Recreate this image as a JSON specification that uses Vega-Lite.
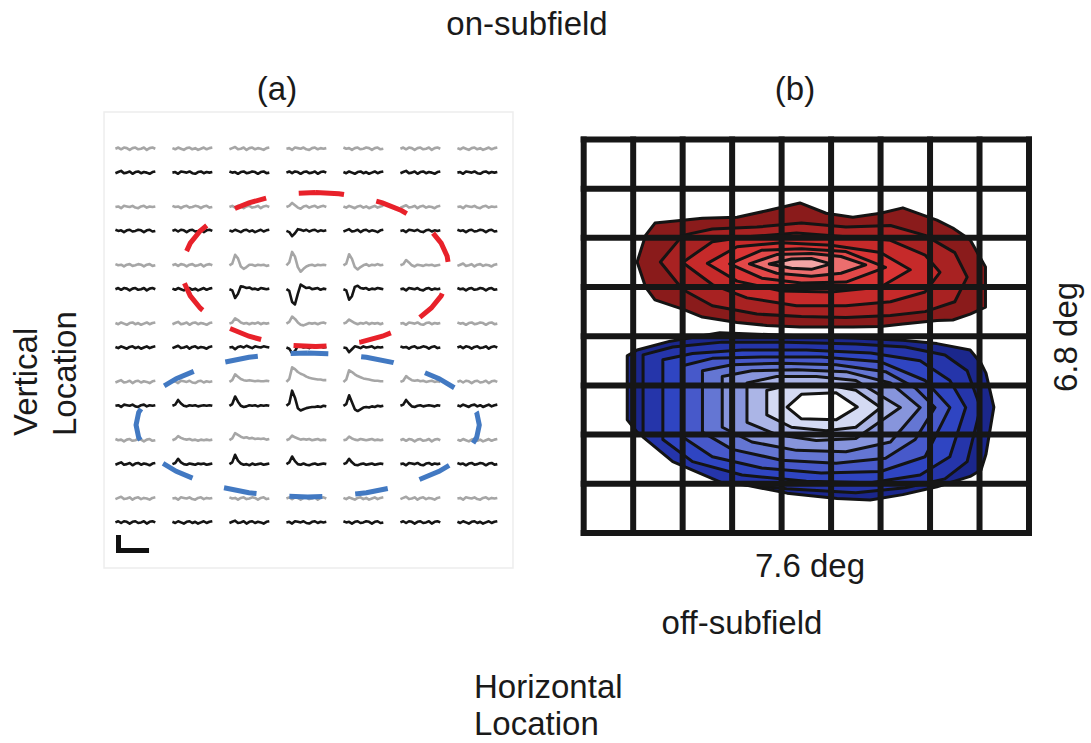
{
  "$schema": "https://vega.github.io/schema/vega-lite/v6.json",
  "width": 1091,
  "height": 743,
  "autosize": "none",
  "padding": 0,
  "background": "white",
  "config": {"view": {"stroke": null}, "text": {"font": "Liberation Sans", "fontSize": 33, "fill": "#1a1a1a"}},
  "datasets": {
    "cols": [
      {"c": 0, "x": [0, 0.05, 0.1, 0.15, 0.2, 0.25, 0.3, 0.35, 0.4, 0.45, 0.5, 0.55, 0.6, 0.65, 0.7]},
      {"c": 1, "x": [1, 1.05, 1.1, 1.15, 1.2, 1.25, 1.3, 1.35, 1.4, 1.45, 1.5, 1.55, 1.6, 1.65, 1.7]},
      {"c": 2, "x": [2, 2.05, 2.1, 2.15, 2.2, 2.25, 2.3, 2.35, 2.4, 2.45, 2.5, 2.55, 2.6, 2.65, 2.7]},
      {"c": 3, "x": [3, 3.05, 3.1, 3.15, 3.2, 3.25, 3.3, 3.35, 3.4, 3.45, 3.5, 3.55, 3.6, 3.65, 3.7]},
      {"c": 4, "x": [4, 4.05, 4.1, 4.15, 4.2, 4.25, 4.3, 4.35, 4.4, 4.45, 4.5, 4.55, 4.6, 4.65, 4.7]},
      {"c": 5, "x": [5, 5.05, 5.1, 5.15, 5.2, 5.25, 5.3, 5.35, 5.4, 5.45, 5.5, 5.55, 5.6, 5.65, 5.7]},
      {"c": 6, "x": [6, 6.05, 6.1, 6.15, 6.2, 6.25, 6.3, 6.35, 6.4, 6.45, 6.5, 6.55, 6.6, 6.65, 6.7]}
    ],
    "traces": [
      {"c":0,"k":0,"s":"ON","y":[7,7.02,6.99,7.02,7.01,6.98,7.01,7.02,6.99,7,7.02,6.98,7.01,7.02,7]},
      {"c":1,"k":0,"s":"ON","y":[7.01,6.99,7.02,7,6.98,7.01,7.02,6.99,7.01,6.98,7,7.02,6.99,7.01,7.02]},
      {"c":2,"k":0,"s":"ON","y":[6.99,7.01,7.03,6.99,7,7.02,6.98,7.01,7.02,6.99,7.01,7,6.98,7.01,7.02]},
      {"c":3,"k":0,"s":"ON","y":[7,7.01,6.98,7.02,7.01,7,7.02,6.99,6.98,7.01,7.02,6.99,7.01,7,7.01]},
      {"c":4,"k":0,"s":"ON","y":[7.02,7,7.01,6.98,7.01,7.02,6.99,7,7.02,7.01,6.98,7.01,7.02,6.99,7]},
      {"c":5,"k":0,"s":"ON","y":[7,7.02,6.99,7.02,7.01,6.98,7.01,7.02,6.99,7,7.02,6.98,7.01,7.02,7]},
      {"c":6,"k":0,"s":"ON","y":[7.01,6.99,7.02,7,6.98,7.01,7.02,6.99,7.01,6.98,7,7.02,6.99,7.01,7.02]},
      {"c":0,"k":0,"s":"OFF","y":[6.58,6.6,6.62,6.58,6.59,6.61,6.57,6.6,6.61,6.58,6.6,6.59,6.57,6.6,6.61]},
      {"c":1,"k":0,"s":"OFF","y":[6.59,6.6,6.57,6.61,6.6,6.59,6.61,6.58,6.57,6.6,6.61,6.58,6.6,6.59,6.6]},
      {"c":2,"k":0,"s":"OFF","y":[6.61,6.59,6.6,6.57,6.6,6.61,6.58,6.59,6.61,6.6,6.57,6.6,6.61,6.58,6.59]},
      {"c":3,"k":0,"s":"OFF","y":[6.59,6.61,6.58,6.61,6.6,6.57,6.6,6.61,6.58,6.59,6.61,6.57,6.6,6.61,6.59]},
      {"c":4,"k":0,"s":"OFF","y":[6.6,6.58,6.61,6.59,6.57,6.6,6.61,6.58,6.6,6.57,6.59,6.61,6.58,6.6,6.61]},
      {"c":5,"k":0,"s":"OFF","y":[6.58,6.6,6.62,6.58,6.59,6.61,6.57,6.6,6.61,6.58,6.6,6.59,6.57,6.6,6.61]},
      {"c":6,"k":0,"s":"OFF","y":[6.59,6.6,6.57,6.61,6.6,6.59,6.61,6.58,6.57,6.6,6.61,6.58,6.6,6.59,6.6]},

      {"c":0,"k":1,"s":"ON","y":[6,6.01,5.98,6.02,6.01,6,6.02,5.99,5.98,6.01,6.02,5.99,6.01,6,6.01]},
      {"c":1,"k":1,"s":"ON","y":[6.02,6,6.01,5.98,6.01,6.02,5.99,6,6.02,6.01,5.98,6.01,6.02,5.99,6]},
      {"c":2,"k":1,"s":"ON","y":[6,6.02,5.99,6.02,6.01,5.98,6.01,6.02,5.99,6,6.02,5.98,6.01,6.02,6]},
      {"c":3,"k":1,"s":"ON","y":[6,6.02,6.07,6.03,5.99,5.97,6.01,6.02,5.99,6.01,6.02,5.99,6.01,6.02,6]},
      {"c":4,"k":1,"s":"ON","y":[6.01,5.99,6.02,6,5.98,6.01,6.02,5.99,6.01,5.98,6,6.02,5.99,6.01,6.02]},
      {"c":5,"k":1,"s":"ON","y":[5.99,6.01,6.03,5.99,6,6.02,5.98,6.01,6.02,5.99,6.01,6,5.98,6.01,6.02]},
      {"c":6,"k":1,"s":"ON","y":[6,6.01,5.98,6.02,6.01,6,6.02,5.99,5.98,6.01,6.02,5.99,6.01,6,6.01]},
      {"c":0,"k":1,"s":"OFF","y":[5.61,5.59,5.6,5.57,5.6,5.61,5.58,5.59,5.61,5.6,5.57,5.6,5.61,5.58,5.59]},
      {"c":1,"k":1,"s":"OFF","y":[5.59,5.61,5.58,5.61,5.6,5.57,5.6,5.61,5.58,5.59,5.61,5.57,5.6,5.61,5.59]},
      {"c":2,"k":1,"s":"OFF","y":[5.6,5.58,5.61,5.59,5.57,5.6,5.61,5.58,5.6,5.57,5.59,5.61,5.58,5.6,5.61]},
      {"c":3,"k":1,"s":"OFF","y":[5.59,5.57,5.5,5.55,5.62,5.61,5.59,5.61,5.58,5.6,5.61,5.58,5.6,5.59,5.6]},
      {"c":4,"k":1,"s":"OFF","y":[5.58,5.6,5.62,5.58,5.59,5.61,5.57,5.6,5.61,5.58,5.6,5.59,5.57,5.6,5.61]},
      {"c":5,"k":1,"s":"OFF","y":[5.59,5.6,5.57,5.61,5.6,5.59,5.61,5.58,5.57,5.6,5.61,5.58,5.6,5.59,5.6]},
      {"c":6,"k":1,"s":"OFF","y":[5.61,5.59,5.6,5.57,5.6,5.61,5.58,5.59,5.61,5.6,5.57,5.6,5.61,5.58,5.59]},

      {"c":0,"k":2,"s":"ON","y":[5.02,5,5.01,4.98,5.01,5.02,4.99,5,5.02,5.01,4.98,5.01,5.02,4.99,5]},
      {"c":1,"k":2,"s":"ON","y":[5,5.02,4.99,5.02,5.01,4.98,5.01,5.02,4.99,5,5.02,4.98,5.01,5.02,5]},
      {"c":2,"k":2,"s":"ON","y":[5,5.03,5.18,5.12,4.98,4.94,4.97,5.01,5.01,4.99,5.01,5,5.01,4.99,5]},
      {"c":3,"k":2,"s":"ON","y":[5,5.05,5.23,5.15,4.97,4.89,4.94,4.98,5,5.01,4.99,5.01,5,5.01,5]},
      {"c":4,"k":2,"s":"ON","y":[5,5.03,5.19,5.11,4.97,4.93,4.97,5,5.02,4.99,5.01,5,5.02,5,5.01]},
      {"c":5,"k":2,"s":"ON","y":[5,5.02,5.09,5.05,5,4.98,5.01,5,4.99,5.01,5,5.01,4.99,5,5.01]},
      {"c":6,"k":2,"s":"ON","y":[4.99,5.01,5.03,4.99,5,5.02,4.98,5.01,5.02,4.99,5.01,5,4.98,5.01,5.02]},
      {"c":0,"k":2,"s":"OFF","y":[4.59,4.61,4.58,4.61,4.6,4.57,4.6,4.61,4.58,4.59,4.61,4.57,4.6,4.61,4.59]},
      {"c":1,"k":2,"s":"OFF","y":[4.6,4.58,4.61,4.59,4.57,4.6,4.61,4.58,4.6,4.57,4.59,4.61,4.58,4.6,4.61]},
      {"c":2,"k":2,"s":"OFF","y":[4.59,4.57,4.44,4.51,4.64,4.63,4.61,4.62,4.59,4.6,4.58,4.61,4.6,4.59,4.6]},
      {"c":3,"k":2,"s":"OFF","y":[4.59,4.56,4.37,4.33,4.51,4.67,4.64,4.61,4.62,4.59,4.6,4.61,4.58,4.6,4.59]},
      {"c":4,"k":2,"s":"OFF","y":[4.59,4.57,4.41,4.47,4.63,4.65,4.61,4.6,4.61,4.58,4.6,4.59,4.61,4.6,4.59]},
      {"c":5,"k":2,"s":"OFF","y":[4.59,4.6,4.57,4.61,4.6,4.59,4.61,4.58,4.57,4.6,4.61,4.58,4.6,4.59,4.6]},
      {"c":6,"k":2,"s":"OFF","y":[4.61,4.59,4.6,4.57,4.6,4.61,4.58,4.59,4.61,4.6,4.57,4.6,4.61,4.58,4.59]},

      {"c":0,"k":3,"s":"ON","y":[4.01,3.99,4.02,4,3.98,4.01,4.02,3.99,4.01,3.98,4,4.02,3.99,4.01,4.02]},
      {"c":1,"k":3,"s":"ON","y":[3.99,4.01,4.03,3.99,4,4.02,3.98,4.01,4.02,3.99,4.01,4,3.98,4.01,4.02]},
      {"c":2,"k":3,"s":"ON","y":[4,4.02,4.09,4.06,4.02,4,4.01,3.99,4.01,4,4.02,3.99,4.01,4,4.01]},
      {"c":3,"k":3,"s":"ON","y":[4,4.03,4.12,4.08,4.02,3.98,3.97,3.99,4.01,4,4.01,3.99,4.01,4.02,4]},
      {"c":4,"k":3,"s":"ON","y":[4,4.02,4.07,4.04,4.01,3.99,4.01,4,4.02,3.99,4.01,4,4.01,3.99,4.01]},
      {"c":5,"k":3,"s":"ON","y":[4,4.01,3.98,4.02,4.01,4,4.02,3.99,3.98,4.01,4.02,3.99,4.01,4,4.01]},
      {"c":6,"k":3,"s":"ON","y":[4.02,4,4.01,3.98,4.01,4.02,3.99,4,4.02,4.01,3.98,4.01,4.02,3.99,4]},
      {"c":0,"k":3,"s":"OFF","y":[3.6,3.58,3.61,3.59,3.57,3.6,3.61,3.58,3.6,3.57,3.59,3.61,3.58,3.6,3.61]},
      {"c":1,"k":3,"s":"OFF","y":[3.58,3.6,3.62,3.58,3.59,3.61,3.57,3.6,3.61,3.58,3.6,3.59,3.57,3.6,3.61]},
      {"c":2,"k":3,"s":"OFF","y":[3.59,3.6,3.56,3.6,3.61,3.59,3.62,3.6,3.58,3.61,3.6,3.59,3.61,3.6,3.59]},
      {"c":3,"k":3,"s":"OFF","y":[3.59,3.57,3.49,3.53,3.62,3.61,3.59,3.6,3.58,3.61,3.59,3.6,3.61,3.59,3.6]},
      {"c":4,"k":3,"s":"OFF","y":[3.59,3.58,3.51,3.56,3.61,3.6,3.58,3.61,3.59,3.6,3.61,3.58,3.6,3.59,3.6]},
      {"c":5,"k":3,"s":"OFF","y":[3.61,3.59,3.6,3.57,3.6,3.61,3.58,3.59,3.61,3.6,3.57,3.6,3.61,3.58,3.59]},
      {"c":6,"k":3,"s":"OFF","y":[3.59,3.61,3.58,3.61,3.6,3.57,3.6,3.61,3.58,3.59,3.61,3.57,3.6,3.61,3.59]},

      {"c":0,"k":4,"s":"ON","y":[2.99,3.01,3.03,2.99,3,3.02,2.98,3.01,3.02,2.99,3.01,3,2.98,3.01,3.02]},
      {"c":1,"k":4,"s":"ON","y":[3,3.01,2.98,3.02,3.01,3,3.02,2.99,2.98,3.01,3.02,2.99,3.01,3,3.01]},
      {"c":2,"k":4,"s":"ON","y":[3,3.03,3.13,3.09,3.05,3.03,3.02,3.03,3.02,3.01,3.02,3.01,3.01,3.02,3.01]},
      {"c":3,"k":4,"s":"ON","y":[3,3.05,3.25,3.22,3.17,3.14,3.12,3.09,3.07,3.06,3.05,3.04,3.04,3.03,3.03]},
      {"c":4,"k":4,"s":"ON","y":[3,3.04,3.2,3.17,3.13,3.1,3.08,3.06,3.05,3.04,3.03,3.02,3.02,3.01,3.01]},
      {"c":5,"k":4,"s":"ON","y":[3,3.02,3.1,3.06,3.03,3.02,3.03,3.01,3.02,3,3.01,3.02,3,3.01,3]},
      {"c":6,"k":4,"s":"ON","y":[3,3.02,2.99,3.02,3.01,2.98,3.01,3.02,2.99,3,3.02,2.98,3.01,3.02,3]},
      {"c":0,"k":4,"s":"OFF","y":[2.59,2.6,2.57,2.61,2.6,2.59,2.61,2.58,2.57,2.6,2.61,2.58,2.6,2.59,2.6]},
      {"c":1,"k":4,"s":"OFF","y":[2.59,2.61,2.69,2.63,2.59,2.58,2.6,2.59,2.6,2.58,2.59,2.6,2.59,2.6,2.59]},
      {"c":2,"k":4,"s":"OFF","y":[2.59,2.62,2.75,2.66,2.59,2.57,2.58,2.6,2.59,2.6,2.58,2.6,2.59,2.6,2.59]},
      {"c":3,"k":4,"s":"OFF","y":[2.59,2.63,2.85,2.73,2.55,2.51,2.53,2.55,2.56,2.57,2.57,2.58,2.57,2.59,2.58]},
      {"c":4,"k":4,"s":"OFF","y":[2.59,2.62,2.77,2.65,2.53,2.5,2.53,2.56,2.57,2.56,2.58,2.57,2.59,2.58,2.59]},
      {"c":5,"k":4,"s":"OFF","y":[2.59,2.61,2.69,2.63,2.58,2.57,2.59,2.6,2.58,2.59,2.6,2.59,2.58,2.6,2.59]},
      {"c":6,"k":4,"s":"OFF","y":[2.6,2.58,2.61,2.59,2.57,2.6,2.61,2.58,2.6,2.57,2.59,2.61,2.58,2.6,2.61]},

      {"c":0,"k":5,"s":"ON","y":[2.02,2,2.01,1.98,2.01,2.02,1.99,2,2.02,2.01,1.98,2.01,2.02,1.99,2]},
      {"c":1,"k":5,"s":"ON","y":[2,2.02,2.07,2.04,2.02,2.01,2.02,2,2.01,1.99,2.01,2,2.01,2,2.01]},
      {"c":2,"k":5,"s":"ON","y":[2,2.03,2.12,2.09,2.06,2.04,2.05,2.03,2.04,2.02,2.03,2.02,2.03,2.01,2.02]},
      {"c":3,"k":5,"s":"ON","y":[2,2.02,2.08,2.05,2.03,2.01,2.02,2.01,2.02,2,2.01,2.02,2,2.01,2]},
      {"c":4,"k":5,"s":"ON","y":[2,2.01,2.06,2.03,2.01,2,2.02,2.01,2,2.01,2.02,2,2.01,2,2.01]},
      {"c":5,"k":5,"s":"ON","y":[2,2.02,1.99,2.02,2.01,1.98,2.01,2.02,1.99,2,2.02,1.98,2.01,2.02,2]},
      {"c":6,"k":5,"s":"ON","y":[2.01,1.99,2.02,2,1.98,2.01,2.02,1.99,2.01,1.98,2,2.02,1.99,2.01,2.02]},
      {"c":0,"k":5,"s":"OFF","y":[1.58,1.6,1.62,1.58,1.59,1.61,1.57,1.6,1.61,1.58,1.6,1.59,1.57,1.6,1.61]},
      {"c":1,"k":5,"s":"OFF","y":[1.59,1.61,1.68,1.62,1.59,1.58,1.6,1.59,1.58,1.6,1.59,1.6,1.58,1.59,1.6]},
      {"c":2,"k":5,"s":"OFF","y":[1.59,1.62,1.75,1.65,1.6,1.58,1.59,1.57,1.6,1.58,1.59,1.6,1.58,1.59,1.6]},
      {"c":3,"k":5,"s":"OFF","y":[1.59,1.62,1.72,1.64,1.59,1.58,1.6,1.58,1.57,1.59,1.6,1.58,1.59,1.6,1.59]},
      {"c":4,"k":5,"s":"OFF","y":[1.59,1.61,1.68,1.62,1.58,1.57,1.59,1.6,1.58,1.59,1.6,1.58,1.59,1.6,1.59]},
      {"c":5,"k":5,"s":"OFF","y":[1.59,1.6,1.57,1.61,1.6,1.59,1.61,1.58,1.57,1.6,1.61,1.58,1.6,1.59,1.6]},
      {"c":6,"k":5,"s":"OFF","y":[1.61,1.59,1.6,1.57,1.6,1.61,1.58,1.59,1.61,1.6,1.57,1.6,1.61,1.58,1.59]},

      {"c":0,"k":6,"s":"ON","y":[0.99,1.01,1.03,0.99,1,1.02,0.98,1.01,1.02,0.99,1.01,1,0.98,1.01,1.02]},
      {"c":1,"k":6,"s":"ON","y":[1,1.01,0.98,1.02,1.01,1,1.02,0.99,0.98,1.01,1.02,0.99,1.01,1,1.01]},
      {"c":2,"k":6,"s":"ON","y":[1.02,1,1.01,0.98,1.01,1.02,0.99,1,1.02,1.01,0.98,1.01,1.02,0.99,1]},
      {"c":3,"k":6,"s":"ON","y":[1,1.02,0.99,1.02,1.01,0.98,1.01,1.02,0.99,1,1.02,0.98,1.01,1.02,1]},
      {"c":4,"k":6,"s":"ON","y":[1.01,0.99,1.02,1,0.98,1.01,1.02,0.99,1.01,0.98,1,1.02,0.99,1.01,1.02]},
      {"c":5,"k":6,"s":"ON","y":[0.99,1.01,1.03,0.99,1,1.02,0.98,1.01,1.02,0.99,1.01,1,0.98,1.01,1.02]},
      {"c":6,"k":6,"s":"ON","y":[1,1.01,0.98,1.02,1.01,1,1.02,0.99,0.98,1.01,1.02,0.99,1.01,1,1.01]},
      {"c":0,"k":6,"s":"OFF","y":[0.59,0.61,0.58,0.61,0.6,0.57,0.6,0.61,0.58,0.59,0.61,0.57,0.6,0.61,0.59]},
      {"c":1,"k":6,"s":"OFF","y":[0.6,0.58,0.61,0.59,0.57,0.6,0.61,0.58,0.6,0.57,0.59,0.61,0.58,0.6,0.61]},
      {"c":2,"k":6,"s":"OFF","y":[0.58,0.6,0.62,0.58,0.59,0.61,0.57,0.6,0.61,0.58,0.6,0.59,0.57,0.6,0.61]},
      {"c":3,"k":6,"s":"OFF","y":[0.59,0.6,0.57,0.61,0.6,0.59,0.61,0.58,0.57,0.6,0.61,0.58,0.6,0.59,0.6]},
      {"c":4,"k":6,"s":"OFF","y":[0.61,0.59,0.6,0.57,0.6,0.61,0.58,0.59,0.61,0.6,0.57,0.6,0.61,0.58,0.59]},
      {"c":5,"k":6,"s":"OFF","y":[0.59,0.61,0.58,0.61,0.6,0.57,0.6,0.61,0.58,0.59,0.61,0.57,0.6,0.61,0.59]},
      {"c":6,"k":6,"s":"OFF","y":[0.6,0.58,0.61,0.59,0.57,0.6,0.61,0.58,0.6,0.57,0.59,0.61,0.58,0.6,0.61]}
    ],
    "rings": [
      {"e":"on","i":0,"x":3.514,"y":6.249},{"e":"on","i":1,"x":3.107,"y":6.229},{"e":"on","i":2,"x":2.713,"y":6.169},{"e":"on","i":3,"x":2.343,"y":6.072},
      {"e":"on","i":4,"x":2.009,"y":5.94},{"e":"on","i":5,"x":1.72,"y":5.777},{"e":"on","i":6,"x":1.486,"y":5.589},{"e":"on","i":7,"x":1.313,"y":5.38},
      {"e":"on","i":8,"x":1.208,"y":5.157},{"e":"on","i":9,"x":1.172,"y":4.928},{"e":"on","i":10,"x":1.208,"y":4.699},{"e":"on","i":11,"x":1.313,"y":4.476},
      {"e":"on","i":12,"x":1.486,"y":4.267},{"e":"on","i":13,"x":1.72,"y":4.079},{"e":"on","i":14,"x":2.009,"y":3.916},{"e":"on","i":15,"x":2.343,"y":3.784},
      {"e":"on","i":16,"x":2.713,"y":3.687},{"e":"on","i":17,"x":3.107,"y":3.627},{"e":"on","i":18,"x":3.514,"y":3.607},{"e":"on","i":19,"x":3.921,"y":3.627},
      {"e":"on","i":20,"x":4.315,"y":3.687},{"e":"on","i":21,"x":4.685,"y":3.784},{"e":"on","i":22,"x":5.019,"y":3.916},{"e":"on","i":23,"x":5.308,"y":4.079},
      {"e":"on","i":24,"x":5.542,"y":4.267},{"e":"on","i":25,"x":5.715,"y":4.476},{"e":"on","i":26,"x":5.82,"y":4.699},{"e":"on","i":27,"x":5.856,"y":4.928},
      {"e":"on","i":28,"x":5.82,"y":5.157},{"e":"on","i":29,"x":5.715,"y":5.38},{"e":"on","i":30,"x":5.542,"y":5.589},{"e":"on","i":31,"x":5.308,"y":5.777},
      {"e":"on","i":32,"x":5.019,"y":5.94},{"e":"on","i":33,"x":4.685,"y":6.072},{"e":"on","i":34,"x":4.315,"y":6.169},{"e":"on","i":35,"x":3.921,"y":6.229},
      {"e":"on","i":36,"x":3.514,"y":6.249},
      {"e":"off","i":0,"x":3.373,"y":3.496},{"e":"off","i":1,"x":2.85,"y":3.477},{"e":"off","i":2,"x":2.343,"y":3.422},{"e":"off","i":3,"x":1.867,"y":3.331},
      {"e":"off","i":4,"x":1.438,"y":3.207},{"e":"off","i":5,"x":1.067,"y":3.055},{"e":"off","i":6,"x":0.765,"y":2.879},{"e":"off","i":7,"x":0.544,"y":2.683},
      {"e":"off","i":8,"x":0.408,"y":2.475},{"e":"off","i":9,"x":0.362,"y":2.261},{"e":"off","i":10,"x":0.408,"y":2.047},{"e":"off","i":11,"x":0.544,"y":1.839},
      {"e":"off","i":12,"x":0.765,"y":1.643},{"e":"off","i":13,"x":1.067,"y":1.467},{"e":"off","i":14,"x":1.438,"y":1.315},{"e":"off","i":15,"x":1.867,"y":1.191},
      {"e":"off","i":16,"x":2.343,"y":1.1},{"e":"off","i":17,"x":2.85,"y":1.045},{"e":"off","i":18,"x":3.373,"y":1.026},{"e":"off","i":19,"x":3.896,"y":1.045},
      {"e":"off","i":20,"x":4.403,"y":1.1},{"e":"off","i":21,"x":4.879,"y":1.191},{"e":"off","i":22,"x":5.308,"y":1.315},{"e":"off","i":23,"x":5.679,"y":1.467},
      {"e":"off","i":24,"x":5.981,"y":1.643},{"e":"off","i":25,"x":6.202,"y":1.839},{"e":"off","i":26,"x":6.338,"y":2.047},{"e":"off","i":27,"x":6.384,"y":2.261},
      {"e":"off","i":28,"x":6.338,"y":2.475},{"e":"off","i":29,"x":6.202,"y":2.683},{"e":"off","i":30,"x":5.981,"y":2.879},{"e":"off","i":31,"x":5.679,"y":3.055},
      {"e":"off","i":32,"x":5.308,"y":3.207},{"e":"off","i":33,"x":4.879,"y":3.331},{"e":"off","i":34,"x":4.403,"y":3.422},{"e":"off","i":35,"x":3.896,"y":3.477},
      {"e":"off","i":36,"x":3.373,"y":3.496}
    ],
    "contours": [
      {"lvl":"r0","x":1.08,"lo":5.51,"hi":5.51},{"lvl":"r0","x":1.25,"lo":5.0,"hi":6.05},{"lvl":"r0","x":1.44,"lo":4.74,"hi":6.3},{"lvl":"r0","x":2.0,"lo":4.55,"hi":6.36},
      {"lvl":"r0","x":2.4,"lo":4.39,"hi":6.4},{"lvl":"r0","x":3.1,"lo":4.28,"hi":6.42},{"lvl":"r0","x":3.7,"lo":4.22,"hi":6.55},{"lvl":"r0","x":4.37,"lo":4.19,"hi":6.71},
      {"lvl":"r0","x":4.9,"lo":4.19,"hi":6.5},{"lvl":"r0","x":5.44,"lo":4.19,"hi":6.42},{"lvl":"r0","x":6.0,"lo":4.2,"hi":6.5},{"lvl":"r0","x":6.45,"lo":4.25,"hi":6.61},
      {"lvl":"r0","x":7.14,"lo":4.32,"hi":6.36},{"lvl":"r0","x":7.46,"lo":4.33,"hi":6.2},{"lvl":"r0","x":7.81,"lo":4.45,"hi":5.96},{"lvl":"r0","x":8.12,"lo":4.59,"hi":5.41},
      {"lvl":"r1","x":1.55,"lo":5.51,"hi":5.51},{"lvl":"r1","x":2.0,"lo":4.95,"hi":6.05},{"lvl":"r1","x":2.6,"lo":4.62,"hi":6.18},{"lvl":"r1","x":3.5,"lo":4.45,"hi":6.22},
      {"lvl":"r1","x":4.4,"lo":4.4,"hi":6.3},{"lvl":"r1","x":5.3,"lo":4.38,"hi":6.22},{"lvl":"r1","x":6.2,"lo":4.42,"hi":6.25},{"lvl":"r1","x":6.9,"lo":4.5,"hi":6.05},
      {"lvl":"r1","x":7.5,"lo":4.7,"hi":5.7},{"lvl":"r1","x":7.75,"lo":5.2,"hi":5.2},
      {"lvl":"r2","x":2.0,"lo":5.5,"hi":5.5},{"lvl":"r2","x":2.6,"lo":5.05,"hi":5.92},{"lvl":"r2","x":3.3,"lo":4.78,"hi":6.02},{"lvl":"r2","x":4.3,"lo":4.62,"hi":6.1},
      {"lvl":"r2","x":5.3,"lo":4.62,"hi":6.02},{"lvl":"r2","x":6.2,"lo":4.7,"hi":5.95},{"lvl":"r2","x":6.9,"lo":4.9,"hi":5.65},{"lvl":"r2","x":7.2,"lo":5.3,"hi":5.3},
      {"lvl":"r3","x":2.5,"lo":5.48,"hi":5.48},{"lvl":"r3","x":3.1,"lo":5.12,"hi":5.82},{"lvl":"r3","x":4.0,"lo":4.92,"hi":5.9},{"lvl":"r3","x":5.0,"lo":4.9,"hi":5.85},
      {"lvl":"r3","x":6.0,"lo":5.0,"hi":5.7},{"lvl":"r3","x":6.6,"lo":5.35,"hi":5.35},
      {"lvl":"r4","x":2.95,"lo":5.47,"hi":5.47},{"lvl":"r4","x":3.6,"lo":5.18,"hi":5.75},{"lvl":"r4","x":4.4,"lo":5.08,"hi":5.78},{"lvl":"r4","x":5.3,"lo":5.1,"hi":5.72},
      {"lvl":"r4","x":6.1,"lo":5.4,"hi":5.4},
      {"lvl":"r5","x":3.35,"lo":5.47,"hi":5.47},{"lvl":"r5","x":3.9,"lo":5.28,"hi":5.66},{"lvl":"r5","x":4.6,"lo":5.22,"hi":5.68},{"lvl":"r5","x":5.2,"lo":5.28,"hi":5.62},
      {"lvl":"r5","x":5.7,"lo":5.45,"hi":5.45},
      {"lvl":"r6","x":3.75,"lo":5.47,"hi":5.47},{"lvl":"r6","x":4.2,"lo":5.38,"hi":5.57},{"lvl":"r6","x":4.6,"lo":5.36,"hi":5.58},{"lvl":"r6","x":5.0,"lo":5.47,"hi":5.47},
      {"lvl":"b0","x":0.88,"lo":2.3,"hi":3.6},{"lvl":"b0","x":1.08,"lo":2.05,"hi":3.72},{"lvl":"b0","x":1.75,"lo":1.55,"hi":3.9},{"lvl":"b0","x":2.75,"lo":1.08,"hi":4.07},
      {"lvl":"b0","x":4.11,"lo":0.81,"hi":4.02},{"lvl":"b0","x":5.12,"lo":0.7,"hi":3.98},{"lvl":"b0","x":5.79,"lo":0.67,"hi":3.95},{"lvl":"b0","x":6.45,"lo":0.78,"hi":3.92},
      {"lvl":"b0","x":7.14,"lo":0.94,"hi":3.85},{"lvl":"b0","x":7.81,"lo":1.15,"hi":3.72},{"lvl":"b0","x":8.03,"lo":1.28,"hi":3.45},{"lvl":"b0","x":8.13,"lo":1.6,"hi":3.25},
      {"lvl":"b0","x":8.29,"lo":2.56,"hi":2.56},
      {"lvl":"b1","x":1.2,"lo":1.95,"hi":3.62},{"lvl":"b1","x":1.8,"lo":1.45,"hi":3.78},{"lvl":"b1","x":2.8,"lo":1.02,"hi":3.88},{"lvl":"b1","x":4.1,"lo":0.9,"hi":3.88},
      {"lvl":"b1","x":5.5,"lo":0.82,"hi":3.84},{"lvl":"b1","x":6.5,"lo":0.92,"hi":3.78},{"lvl":"b1","x":7.3,"lo":1.1,"hi":3.62},{"lvl":"b1","x":7.75,"lo":1.45,"hi":3.3},
      {"lvl":"b1","x":8.02,"lo":2.55,"hi":2.55},
      {"lvl":"b2","x":1.6,"lo":1.9,"hi":3.52},{"lvl":"b2","x":2.2,"lo":1.45,"hi":3.65},{"lvl":"b2","x":3.2,"lo":1.18,"hi":3.72},{"lvl":"b2","x":4.5,"lo":1.05,"hi":3.72},
      {"lvl":"b2","x":5.8,"lo":1.02,"hi":3.66},{"lvl":"b2","x":6.8,"lo":1.18,"hi":3.5},{"lvl":"b2","x":7.4,"lo":1.55,"hi":3.1},{"lvl":"b2","x":7.72,"lo":2.55,"hi":2.55},
      {"lvl":"b3","x":2.0,"lo":1.95,"hi":3.4},{"lvl":"b3","x":2.6,"lo":1.55,"hi":3.55},{"lvl":"b3","x":3.6,"lo":1.32,"hi":3.58},{"lvl":"b3","x":4.8,"lo":1.22,"hi":3.58},
      {"lvl":"b3","x":6.0,"lo":1.25,"hi":3.48},{"lvl":"b3","x":6.9,"lo":1.55,"hi":3.1},{"lvl":"b3","x":7.4,"lo":2.55,"hi":2.55},
      {"lvl":"b4","x":2.4,"lo":2.05,"hi":3.3},{"lvl":"b4","x":3.0,"lo":1.7,"hi":3.42},{"lvl":"b4","x":4.0,"lo":1.48,"hi":3.45},{"lvl":"b4","x":5.1,"lo":1.42,"hi":3.42},
      {"lvl":"b4","x":6.1,"lo":1.52,"hi":3.28},{"lvl":"b4","x":6.7,"lo":1.9,"hi":2.95},{"lvl":"b4","x":7.1,"lo":2.55,"hi":2.55},
      {"lvl":"b5","x":2.8,"lo":2.15,"hi":3.18},{"lvl":"b5","x":3.4,"lo":1.85,"hi":3.3},{"lvl":"b5","x":4.3,"lo":1.68,"hi":3.32},{"lvl":"b5","x":5.3,"lo":1.65,"hi":3.28},
      {"lvl":"b5","x":6.2,"lo":1.85,"hi":3.05},{"lvl":"b5","x":6.8,"lo":2.55,"hi":2.55},
      {"lvl":"b6","x":3.3,"lo":2.25,"hi":3.05},{"lvl":"b6","x":3.9,"lo":2.0,"hi":3.18},{"lvl":"b6","x":4.7,"lo":1.88,"hi":3.18},{"lvl":"b6","x":5.5,"lo":1.92,"hi":3.1},
      {"lvl":"b6","x":6.4,"lo":2.55,"hi":2.55},
      {"lvl":"b7","x":3.7,"lo":2.4,"hi":2.9},{"lvl":"b7","x":4.2,"lo":2.15,"hi":3.02},{"lvl":"b7","x":4.9,"lo":2.08,"hi":3.02},{"lvl":"b7","x":5.5,"lo":2.15,"hi":2.9},
      {"lvl":"b7","x":6.0,"lo":2.55,"hi":2.55},
      {"lvl":"b8","x":4.11,"lo":2.56,"hi":2.56},{"lvl":"b8","x":4.4,"lo":2.32,"hi":2.82},{"lvl":"b8","x":5.1,"lo":2.3,"hi":2.85},{"lvl":"b8","x":5.53,"lo":2.56,"hi":2.56}
    ],
    "grid": [
      {"x1":0,"y1":0,"x2":0,"y2":8},{"x1":1,"y1":0,"x2":1,"y2":8},{"x1":2,"y1":0,"x2":2,"y2":8},{"x1":3,"y1":0,"x2":3,"y2":8},{"x1":4,"y1":0,"x2":4,"y2":8},
      {"x1":5,"y1":0,"x2":5,"y2":8},{"x1":6,"y1":0,"x2":6,"y2":8},{"x1":7,"y1":0,"x2":7,"y2":8},{"x1":8,"y1":0,"x2":8,"y2":8},{"x1":9,"y1":0,"x2":9,"y2":8},
      {"x1":0,"y1":0,"x2":9,"y2":0},{"x1":0,"y1":1,"x2":9,"y2":1},{"x1":0,"y1":2,"x2":9,"y2":2},{"x1":0,"y1":3,"x2":9,"y2":3},{"x1":0,"y1":4,"x2":9,"y2":4},
      {"x1":0,"y1":5,"x2":9,"y2":5},{"x1":0,"y1":6,"x2":9,"y2":6},{"x1":0,"y1":7,"x2":9,"y2":7},{"x1":0,"y1":8,"x2":9,"y2":8}
    ]
  },
  "resolve": {"scale": {"x": "independent", "y": "independent"}},
  "layer": [
    {
      "layer": [
        {
          "data": {"values": [{"x1": -0.2, "x2": 6.975, "y1": 7.63, "y2": -0.192}]},
          "mark": {"type": "rect", "fill": null, "stroke": "#ededed", "strokeWidth": 1.5},
          "encoding": {
            "x": {"field": "x1", "type": "quantitative", "axis": null, "scale": {"domain": [-2.025, 17.116], "nice": false, "zero": false}},
            "x2": {"field": "x2"},
            "y": {"field": "y1", "type": "quantitative", "axis": null, "scale": {"domain": [-3.194, 9.551], "nice": false, "zero": false}},
            "y2": {"field": "y2"}
          }
        },
        {
          "data": {"name": "traces"},
          "transform": [
            {"lookup": "c", "from": {"data": {"name": "cols"}, "key": "c", "fields": ["x"]}},
            {"flatten": ["x", "y"]}
          ],
          "mark": {"type": "line", "strokeWidth": 2.6, "strokeJoin": "round"},
          "encoding": {
            "x": {"field": "x", "type": "quantitative", "axis": null, "scale": {"domain": [-2.025, 17.116], "nice": false, "zero": false}},
            "y": {"field": "y", "type": "quantitative", "axis": null, "scale": {"domain": [-3.194, 9.551], "nice": false, "zero": false}},
            "color": {"field": "s", "type": "nominal", "legend": null, "scale": {"domain": ["ON", "OFF"], "range": ["#a6a6a6", "#151515"]}},
            "detail": [{"field": "c"}, {"field": "k"}]
          }
        },
        {
          "data": {"name": "rings"},
          "mark": {"type": "line", "strokeWidth": 5, "strokeDash": [33, 33], "strokeDashOffset": 16},
          "encoding": {
            "x": {"field": "x", "type": "quantitative", "axis": null, "scale": {"domain": [-2.025, 17.116], "nice": false, "zero": false}},
            "y": {"field": "y", "type": "quantitative", "axis": null, "scale": {"domain": [-3.194, 9.551], "nice": false, "zero": false}},
            "stroke": {"field": "e", "type": "nominal", "legend": null, "scale": {"domain": ["on", "off"], "range": ["#e8212a", "#4279c2"]}},
            "order": {"field": "i", "type": "quantitative"}
          }
        },
        {
          "data": {"values": [{"x1": 0.054, "y1": 0.331, "x2": 0.054, "y2": 0.108}, {"x1": 0.054, "y1": 0.108, "x2": 0.546, "y2": 0.108}]},
          "mark": {"type": "rule", "strokeWidth": 5, "strokeCap": "square", "color": "#111"},
          "encoding": {
            "x": {"field": "x1", "type": "quantitative", "axis": null, "scale": {"domain": [-2.025, 17.116], "nice": false, "zero": false}},
            "x2": {"field": "x2"},
            "y": {"field": "y1", "type": "quantitative", "axis": null, "scale": {"domain": [-3.194, 9.551], "nice": false, "zero": false}},
            "y2": {"field": "y2"}
          }
        },
        {
          "data": {"values": [{"t": "(a)", "x": 2.835, "y": 7.835}]},
          "mark": {"type": "text", "align": "center", "baseline": "alphabetic"},
          "encoding": {
            "x": {"field": "x", "type": "quantitative", "axis": null, "scale": {"domain": [-2.025, 17.116], "nice": false, "zero": false}},
            "y": {"field": "y", "type": "quantitative", "axis": null, "scale": {"domain": [-3.194, 9.551], "nice": false, "zero": false}},
            "text": {"field": "t"}
          }
        },
        {
          "data": {"values": [{"t": "Horizontal", "x": 6.291, "y": -2.43}, {"t": "Location", "x": 6.291, "y": -3.06}]},
          "mark": {"type": "text", "align": "left", "baseline": "alphabetic"},
          "encoding": {
            "x": {"field": "x", "type": "quantitative", "axis": null, "scale": {"domain": [-2.025, 17.116], "nice": false, "zero": false}},
            "y": {"field": "y", "type": "quantitative", "axis": null, "scale": {"domain": [-3.194, 9.551], "nice": false, "zero": false}},
            "text": {"field": "t"}
          }
        },
        {
          "data": {"values": [{"t": "Vertical", "x": -1.375, "y": 2.072}, {"t": "Location", "x": -0.691, "y": 2.072}]},
          "mark": {"type": "text", "align": "left", "baseline": "alphabetic", "angle": 270},
          "encoding": {
            "x": {"field": "x", "type": "quantitative", "axis": null, "scale": {"domain": [-2.025, 17.116], "nice": false, "zero": false}},
            "y": {"field": "y", "type": "quantitative", "axis": null, "scale": {"domain": [-3.194, 9.551], "nice": false, "zero": false}},
            "text": {"field": "t"}
          }
        }
      ]
    },
    {
      "layer": [
        {
          "data": {"name": "contours"},
          "mark": {"type": "area", "stroke": "#141414", "strokeWidth": 3, "strokeJoin": "round", "interpolate": "linear"},
          "encoding": {
            "x": {"field": "x", "type": "quantitative", "axis": null, "scale": {"domain": [-11.797, 10.253], "nice": false, "zero": false}},
            "y": {"field": "lo", "type": "quantitative", "axis": null, "scale": {"domain": [-4.269, 10.835], "nice": false, "zero": false}},
            "y2": {"field": "hi"},
            "fill": {"field": "lvl", "type": "nominal", "legend": null, "scale": {
              "domain": ["r0", "r1", "r2", "r3", "r4", "r5", "r6", "b0", "b1", "b2", "b3", "b4", "b5", "b6", "b7", "b8"],
              "range": ["#8a1b1b", "#a82222", "#c62a2a", "#d93434", "#e34848", "#eb6e6e", "#f3a6a6", "#1b278c", "#2535aa", "#2f45c2", "#4759ca", "#6476d3", "#8795dc", "#abb5e6", "#d4daf3", "#ffffff"]}}
          }
        },
        {
          "data": {"name": "grid"},
          "mark": {"type": "rule", "strokeWidth": 6, "strokeCap": "square", "color": "#161616"},
          "encoding": {
            "x": {"field": "x1", "type": "quantitative", "axis": null, "scale": {"domain": [-11.797, 10.253], "nice": false, "zero": false}},
            "x2": {"field": "x2"},
            "y": {"field": "y1", "type": "quantitative", "axis": null, "scale": {"domain": [-4.269, 10.835], "nice": false, "zero": false}},
            "y2": {"field": "y2"}
          }
        },
        {
          "data": {"values": [
            {"t": "on-subfield", "x": -1.146, "y": 10.124},
            {"t": "(b)", "x": 4.27, "y": 8.803},
            {"t": "7.6 deg", "x": 4.574, "y": -0.894},
            {"t": "off-subfield", "x": 3.199, "y": -2.053}
          ]},
          "mark": {"type": "text", "align": "center", "baseline": "alphabetic"},
          "encoding": {
            "x": {"field": "x", "type": "quantitative", "axis": null, "scale": {"domain": [-11.797, 10.253], "nice": false, "zero": false}},
            "y": {"field": "y", "type": "quantitative", "axis": null, "scale": {"domain": [-4.269, 10.835], "nice": false, "zero": false}},
            "text": {"field": "t"}
          }
        },
        {
          "data": {"values": [{"t": "6.8 deg", "x": 9.768, "y": 3.985}]},
          "mark": {"type": "text", "align": "center", "baseline": "middle", "angle": 270},
          "encoding": {
            "x": {"field": "x", "type": "quantitative", "axis": null, "scale": {"domain": [-11.797, 10.253], "nice": false, "zero": false}},
            "y": {"field": "y", "type": "quantitative", "axis": null, "scale": {"domain": [-4.269, 10.835], "nice": false, "zero": false}},
            "text": {"field": "t"}
          }
        }
      ]
    }
  ]
}
